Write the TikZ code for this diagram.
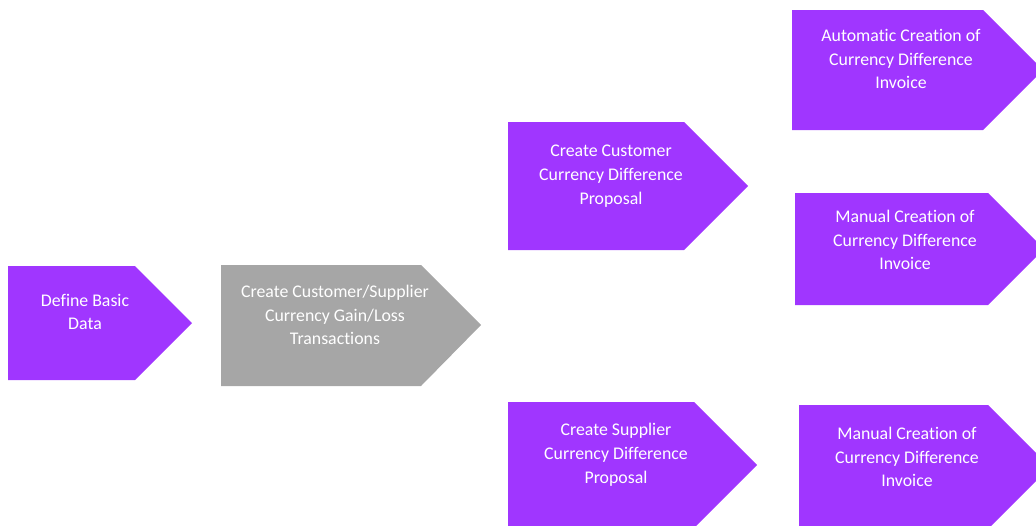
\documentclass[tikz,border=0pt]{standalone}
\usepackage{fontspec}
\setmainfont[Ligatures=NoCommon]{Carlito}
\definecolor{vio}{HTML}{A036FF}
\definecolor{gry}{HTML}{A6A6A6}
\tikzset{
  chev/.style={fill=vio, draw=none},
  chevgray/.style={fill=gry, draw=none},
  lbl/.style={text=white, align=center, font=\fontsize{17.8}{23.8}\selectfont, inner sep=0pt}
}
\begin{document}
\begin{tikzpicture}[x=1pt,y=-1pt]
\useasboundingbox (0,0) rectangle (1036,525);
\clip (0,0) rectangle (1036,525);
% shapes
\path[chev] (8,266) -- (135,266) -- (192,323) -- (135,380) -- (8,380) -- cycle;
\path[chevgray] (221,265) -- (421,265) -- (481,325) -- (421,386) -- (221,386) -- cycle;
\path[chev] (508,122) -- (684,122) -- (748,186) -- (684,250) -- (508,250) -- cycle;
\path[chev] (792,10) -- (983,10) -- (1043,70) -- (983,130) -- (792,130) -- cycle;
\path[chev] (795,193) -- (988,193) -- (1044,249) -- (988,305) -- (795,305) -- cycle;
\path[chev] (508,402) -- (694,402) -- (757,465) -- (694,528) -- (508,528) -- cycle;
\path[chev] (799,405) -- (988,405) -- (1050,467) -- (988,529) -- (799,529) -- cycle;
% labels
\node[lbl] (basic) at (85,312) {Define Basic\\Data};
\node[lbl] (gain) at (335,315) {Create Customer/Supplier\\Currency Gain/Loss\\Transactions};
\node[lbl] (custprop) at (611,176) {Create Customer\\Currency Difference\\Proposal};
\node[lbl] (auto) at (901,59) {Automatic Creation of\\Currency Difference\\Invoice};
\node[lbl] (man1) at (905,240) {Manual Creation of\\Currency Difference\\Invoice};
\node[lbl] (suppprop) at (616,455) {Create Supplier\\Currency Difference\\Proposal};
\node[lbl] (man2) at (907,457) {Manual Creation of\\Currency Difference\\Invoice};
\end{tikzpicture}
\end{document}
